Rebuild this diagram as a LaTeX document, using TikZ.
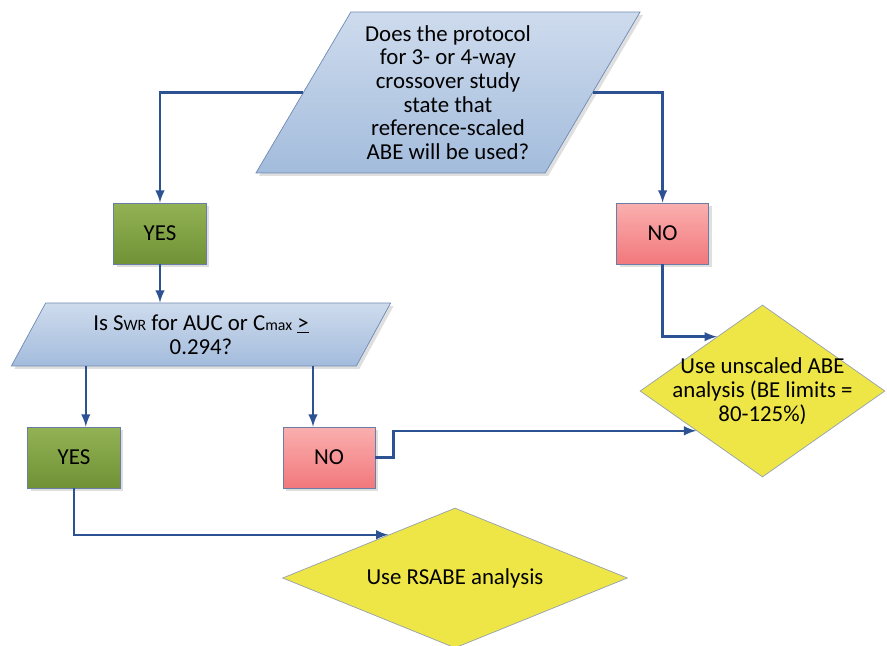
\documentclass[tikz,border=0pt]{standalone}
\usepackage{fontspec}
\setmainfont{Carlito}
\usepackage{tikz}
\usetikzlibrary{shapes.geometric, arrows, positioning, calc, shadows}

\definecolor{qtop}{RGB}{206,219,237}
\definecolor{qbottom}{RGB}{163,188,220}
\definecolor{qline}{RGB}{110,138,180}
\definecolor{ytop}{RGB}{146,178,84}
\definecolor{ybottom}{RGB}{112,145,54}
\definecolor{ntop}{RGB}{250,175,175}
\definecolor{nbottom}{RGB}{242,120,124}
\definecolor{boxline}{RGB}{105,125,165}
\definecolor{dfill}{RGB}{238,230,70}
\definecolor{dline}{RGB}{150,160,175}
\definecolor{arrowblue}{RGB}{44,82,148}

\begin{document}
\begin{tikzpicture}[x=0.02cm, y=-0.02cm, font=\fontsize{13}{13.5}\selectfont,
question/.style={trapezium, trapezium left angle=59, trapezium right angle=121, trapezium stretches=true, draw=qline, top color=qtop, bottom color=qbottom, align=center, inner sep=0pt, drop shadow={shadow xshift=0.6mm, shadow yshift=-0.6mm, opacity=0.25}},
yesbox/.style={rectangle, draw=boxline, top color=ytop, bottom color=ybottom, minimum width=1.86cm, minimum height=1.22cm, drop shadow={shadow xshift=0.6mm, shadow yshift=-0.6mm, opacity=0.25}},
nobox/.style={rectangle, draw=boxline, top color=ntop, bottom color=nbottom, minimum width=1.84cm, minimum height=1.22cm, drop shadow={shadow xshift=0.6mm, shadow yshift=-0.6mm, opacity=0.25}},
result/.style={diamond, draw=dline, fill=dfill, inner sep=0pt},
resulttext/.style={align=center, inner sep=0pt},
link/.style={draw=arrowblue, line width=1.4pt, -latex}]
\useasboundingbox (0,0) rectangle (887,646);
\node[question, minimum width=7.7cm, minimum height=3.22cm] (q1) at (448,92.5) {Does the protocol\\for 3- or 4-way\\crossover study\\state that\\reference-scaled\\ABE will be used?};
\node[yesbox] (yes1) at (160,233.5) {YES};
\node[nobox, right=8.19cm of yes1] (no1) {NO};
\node[question, minimum width=7.6cm, minimum height=1.26cm] (q2) at (201,334.5) {Is S{\fontsize{9}{9}\selectfont WR} for AUC or C{\fontsize{9}{9}\selectfont max} \underline{>}\\0.294?};
\node[yesbox] (yes2) at (74,457.5) {YES};
\node[nobox, right=3.24cm of yes2] (no2) {NO};
\node[result, minimum width=4.9cm, minimum height=3.44cm] (d1) at (762.5,391) {};
\node[resulttext] (d1text) at (d1.center) {Use unscaled ABE\\analysis (BE limits =\\80-125\%)};
\node[result, minimum width=6.9cm, minimum height=2.8cm] (d2) at (455,578) {};
\node[resulttext] (d2text) at (d2.center) {Use RSABE analysis};
\coordinate (q2yes) at ($(q2.bottom left corner)!0.217!(q2.bottom right corner)$);
\coordinate (q2no) at ($(q2.bottom left corner)!0.874!(q2.bottom right corner)$);
\draw[link] (q1.west) -| (yes1.north);
\draw[link] (q1.east) -| (no1.north);
\draw[link] (yes1.south) -- (yes1.south |- q2.north);
\draw[link] (q2yes) -- (q2yes |- yes2.north);
\draw[link] (q2no) -- (q2no |- no2.north);
\draw[link] (no1.south) |- (d1.130);
\draw[link] (no2.east) -- ++(18,0) |- (d1.211);
\draw[link] (yes2.south) |- (d2.147);
\end{tikzpicture}
\end{document}
